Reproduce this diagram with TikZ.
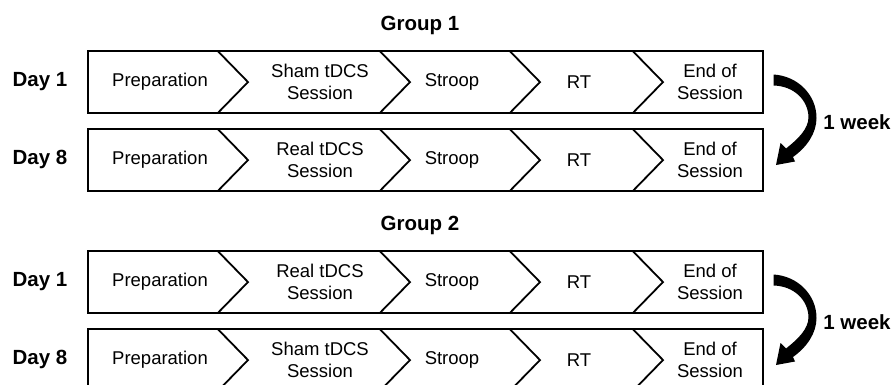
\documentclass[tikz,border=0pt]{standalone}
\usepackage{fontspec}
\setmainfont{Liberation Sans}
\tikzset{
  boxline/.style={draw=black, line width=1.8pt, line join=miter},
  txt/.style={font=\fontsize{18.5}{22}\selectfont, align=center, inner sep=0pt},
  lbl/.style={font=\fontsize{20.5}{24}\selectfont\bfseries, inner sep=0pt},
  weekarrow/.style={fill=black, draw=none}
}
\newcommand\steprow[4]{%
  \begin{scope}[shift={(0,#2)}]
    \draw[boxline] (88,0) rectangle (763,61.5);
    \foreach \x in {218,380,510,633}
      \draw[boxline] (\x,0) -- ++(30,30.75) -- ++(-30,30.75);
    \node[lbl] (#1day) at (40,30.5) {#3};
    \node[txt] (#1prep) at (160,30.5) {Preparation};
    \node[txt] (#1tdcs) at (320,31) {#4};
    \node[txt] (#1stroop) at (452,30.5) {Stroop};
    \node[txt] (#1rt) at (579,30.5) {RT};
    \node[txt] (#1end) at (710,31) {End of\\Session};
  \end{scope}}
\newcommand\weekarrowdraw[2]{%
  \begin{scope}[shift={(0,#1)}]
    \fill[weekarrow] (773.5,74.5) .. controls (798,76) and (816.5,95) .. (816.5,118)
      .. controls (816.5,133) and (807,147) .. (793,157)
      -- (795,161.5) -- (776,165) -- (780.5,143) -- (786,148.5)
      .. controls (798,139) and (808.5,129) .. (808.5,117)
      .. controls (808,100) and (794,86) .. (773.5,85.5) -- cycle;
    \node[lbl] (#2) at (857,122) {1 week};
  \end{scope}}
\begin{document}
\begin{tikzpicture}[x=1pt,y=-1pt]
  \useasboundingbox (0,0) rectangle (896,384);
  \clip (0,0) rectangle (896,384);
  \node[lbl] (group1) at (420,25) {Group 1};
  \steprow{ga}{51.3}{Day 1}{Sham tDCS\\Session}
  \steprow{gb}{129.3}{Day 8}{Real tDCS\\Session}
  \weekarrowdraw{0}{week1}
  \node[lbl] (group2) at (420,225) {Group 2};
  \steprow{gc}{251.3}{Day 1}{Real tDCS\\Session}
  \steprow{gd}{329.3}{Day 8}{Sham tDCS\\Session}
  \weekarrowdraw{200}{week2}
\end{tikzpicture}
\end{document}
